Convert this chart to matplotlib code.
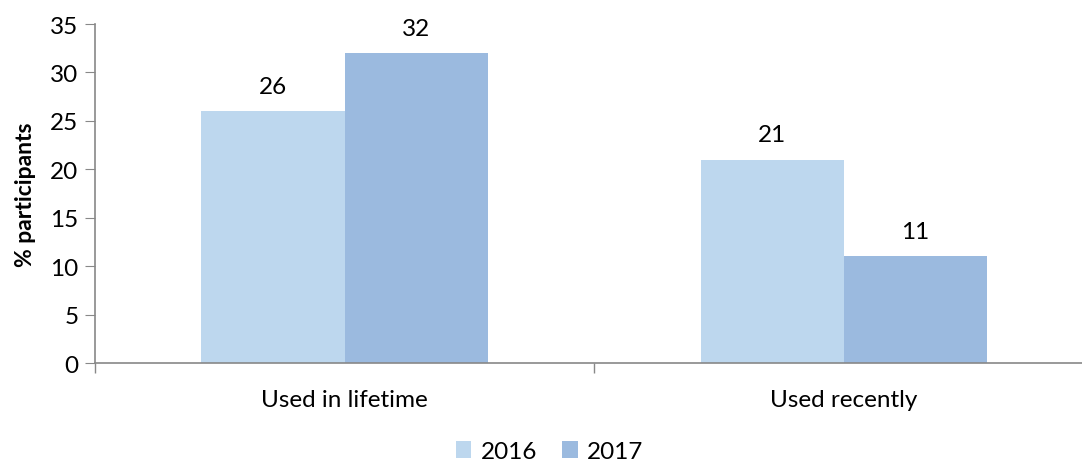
import numpy as np
import matplotlib.pyplot as plt

categories = ["Used in lifetime", "Used recently"]
years = ["2016", "2017"]
vals_2016 = [26, 21]
vals_2017 = [32, 11]
colors = ["#BDD7EE", "#9BBADF"]

plt.rcParams['font.family'] = ['Lato', 'DejaVu Sans']

fig = plt.figure(figsize=(10.82, 4.64), dpi=100)
ax = fig.add_axes([0.0878, 0.2155, 0.9224, 0.7305])

x = np.arange(len(categories))
w = 0.2866
b1 = ax.bar(x - w / 2, vals_2016, w, color=colors[0], label=years[0])
b2 = ax.bar(x + w / 2, vals_2017, w, color=colors[1], label=years[1])
for bars in (b1, b2):
    for r in bars:
        ax.text(r.get_x() + r.get_width() / 2, r.get_height() + 1.5, str(int(r.get_height())),
                ha='center', va='bottom', fontsize=17.5)

ax.set_xlim(-0.5, 1.5)
ax.set_ylim(0, 35)
ax.set_yticks(range(0, 36, 5))
ax.set_xticks([-0.5, 0.5, 1.5], minor=False)
ax.set_xticklabels([])
ax.set_xticks(x, minor=True)
ax.set_xticklabels(categories, minor=True)
ax.tick_params(axis='x', which='minor', length=0, labelsize=17.5, pad=19)
ax.tick_params(axis='x', which='major', length=7, color='#888888', width=1)
ax.tick_params(axis='y', length=7, color='#888888', labelsize=17.5, pad=5)
for s in ['top', 'right']:
    ax.spines[s].set_visible(False)
for s in ['left', 'bottom']:
    ax.spines[s].set_color('#888888')
    ax.spines[s].set_linewidth(1.2)
ax.set_ylabel("% participants", fontsize=16.5, fontweight='bold', labelpad=10)

fig.legend(loc='lower center', bbox_to_anchor=(0.508, -0.045), ncol=2, frameon=False,
           fontsize=17.5, handlelength=0.65, handleheight=0.65, handletextpad=0.4, columnspacing=1.0)

fig.savefig("out.png", dpi=100)
